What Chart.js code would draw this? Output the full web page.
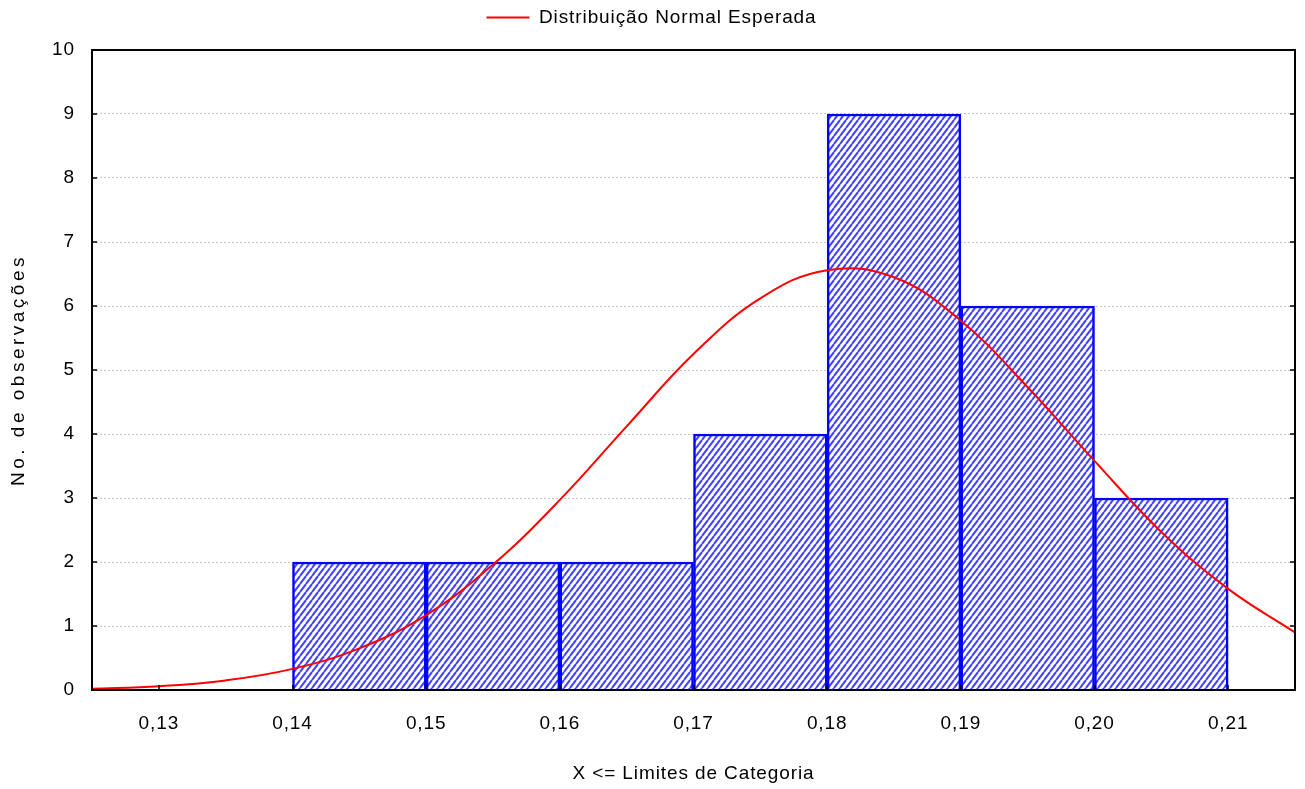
<!DOCTYPE html>
<html>
<head>
<meta charset="utf-8">
<script src="https://cdn.jsdelivr.net/npm/chart.js@4.4.1/dist/chart.umd.min.js"></script>
<style>
  html, body { margin: 0; padding: 0; background: #ffffff; }
  #c { display: block; }
</style>
</head>
<body>
<canvas id="c" width="1305" height="789"></canvas>
<script>
// Histogram: category limits and observation counts per class
const binEdges = [0.14, 0.15, 0.16, 0.17, 0.18, 0.19, 0.20, 0.21];
const counts = [2, 2, 2, 4, 9, 6, 3];

// Expected normal distribution curve (scaled to counts)
const curveX = [0.125, 0.13, 0.135, 0.14, 0.145, 0.15, 0.155, 0.16, 0.165, 0.17, 0.175, 0.18, 0.185, 0.19, 0.195, 0.20, 0.205, 0.21, 0.215];
const curveY = [0.02, 0.06, 0.15, 0.33, 0.65, 1.17, 1.96, 2.97, 4.12, 5.25, 6.12, 6.56, 6.45, 5.77, 4.73, 3.58, 2.47, 1.58, 0.9];

// Axis ticks
const xTicks = [0.13, 0.14, 0.15, 0.16, 0.17, 0.18, 0.19, 0.20, 0.21];
const yTicks = [0, 1, 2, 3, 4, 5, 6, 7, 8, 9, 10];

const FAMILY = "'Liberation Sans', Arial, sans-serif";
const font = { family: FAMILY, size: 19, weight: 'normal' };
const SPACING = '0.9px';
const TITLE_SPACING = '3.5px';

// Diagonal hatch fill for the bars
function hatchPattern() {
  const w = 6, h = 8;
  const t = document.createElement('canvas');
  t.width = w; t.height = h;
  const g = t.getContext('2d');
  g.fillStyle = '#ffffff';
  g.fillRect(0, 0, w, h);
  g.strokeStyle = '#4040ff';
  g.lineWidth = 2;
  for (const x0 of [-w, 0, w]) {
    g.beginPath();
    g.moveTo(x0, h);
    g.lineTo(x0 + w, 0);
    g.stroke();
  }
  return document.getElementById('c').getContext('2d').createPattern(t, 'repeat');
}

const barPoints = counts.map((v, i) => ({ x: (binEdges[i] + binEdges[i + 1]) / 2, y: v }));
const curvePoints = curveX.map((x, i) => ({ x: x, y: curveY[i] }));

// Text spacing is part of the canvas state, so it is set again before layout and drawing
const spacingPlugin = {
  id: 'spacing',
  beforeLayout(chart) { chart.ctx.letterSpacing = SPACING; },
  afterLayout(chart) {
    // nudge the legend a little to the right of the exact centre
    if (chart.legend) { chart.legend.left += 4; chart.legend.right += 4; }
  },
  beforeDraw(chart) { chart.ctx.letterSpacing = SPACING; }
};

// Plot frame with inward tick marks
const framePlugin = {
  id: 'frame',
  afterDatasetsDraw(chart) {
    const { ctx, chartArea: a, scales } = chart;
    ctx.save();
    ctx.strokeStyle = '#000000';
    ctx.lineWidth = 2;
    ctx.strokeRect(a.left, a.top, a.right - a.left, a.bottom - a.top);
    ctx.lineWidth = 1.5;
    ctx.beginPath();
    for (const v of yTicks) {
      const y = Math.round(scales.y.getPixelForValue(v));
      ctx.moveTo(a.left, y); ctx.lineTo(a.left + 5, y);
      ctx.moveTo(a.right, y); ctx.lineTo(a.right - 5, y);
    }
    for (const v of xTicks) {
      const x = Math.round(scales.x.getPixelForValue(v));
      ctx.moveTo(x, a.bottom); ctx.lineTo(x, a.bottom - 5);
    }
    ctx.stroke();
    ctx.restore();
  }
};

const chart = new Chart(document.getElementById('c'), {
  type: 'bar',
  data: {
    datasets: [
      {
        type: 'line',
        label: 'Distribuição Normal Esperada',
        data: curvePoints,
        borderColor: '#ff0000',
        backgroundColor: '#ff0000',
        borderWidth: 2,
        pointRadius: 0,
        fill: false,
        tension: 0.4,
        order: 0
      },
      {
        type: 'bar',
        label: 'Observações',
        data: barPoints,
        backgroundColor: hatchPattern(),
        borderColor: '#0000ff',
        borderWidth: 2.5,
        barPercentage: 1,
        categoryPercentage: 1,
        order: 1
      }
    ]
  },
  options: {
    responsive: false,
    animation: false,
    layout: { padding: { left: 0, right: 10, top: 0, bottom: 0 } },
    plugins: {
      tooltip: { enabled: false },
      legend: {
        position: 'top',
        labels: {
          color: '#000000',
          font: font,
          boxWidth: 43,
          boxHeight: 2,
          padding: 8,
          generateLabels(c) {
            return Chart.defaults.plugins.legend.labels.generateLabels(c)
              .filter(it => it.datasetIndex === 0)
              .map(it => Object.assign(it, { lineWidth: 0, fillStyle: '#ff0000' }));
          }
        }
      }
    },
    scales: {
      x: {
        type: 'linear',
        position: 'bottom',
        min: 0.125,
        max: 0.215,
        offset: false,
        afterBuildTicks(s) { s.ticks = xTicks.map(v => ({ value: v })); },
        ticks: {
          autoSkip: false,
          maxRotation: 0,
          padding: 22,
          color: '#000000',
          font: font,
          callback: v => v.toFixed(2).replace('.', ',')
        },
        grid: { display: false, drawTicks: false, offset: false },
        border: { display: false },
        title: {
          display: true,
          text: 'X <= Limites de Categoria',
          color: '#000000',
          font: font,
          padding: { top: 0, bottom: 4 }
        },
        afterFit(s) { s.height = 99; }
      },
      xTop: {
        type: 'linear',
        position: 'top',
        min: 0.125,
        max: 0.215,
        ticks: { display: false },
        grid: { display: false, drawTicks: false },
        border: { display: false },
        afterFit(s) { s.height = 13; }
      },
      y: {
        min: 0,
        max: 10,
        ticks: { stepSize: 1, padding: 17, color: '#000000', font: font },
        grid: { color: '#c6c6c6', lineWidth: 1, drawTicks: false },
        border: { display: false, dash: [2, 2] },
        title: {
          display: true,
          text: 'No. de observações',
          color: '#000000',
          font: font,
          padding: { top: 7, bottom: 0 }
        },
        afterFit(s) {
          s.width = 92;
          // the axis title is set with wider letter spacing than the rest
          if (!s._wideTitle) {
            s._wideTitle = true;
            const base = s.drawTitle;
            s.drawTitle = function () {
              const prev = this.ctx.letterSpacing;
              this.ctx.letterSpacing = TITLE_SPACING;
              base.call(this);
              this.ctx.letterSpacing = prev;
            };
          }
        }
      }
    }
  },
  plugins: [spacingPlugin, framePlugin]
});
</script>
</body>
</html>
